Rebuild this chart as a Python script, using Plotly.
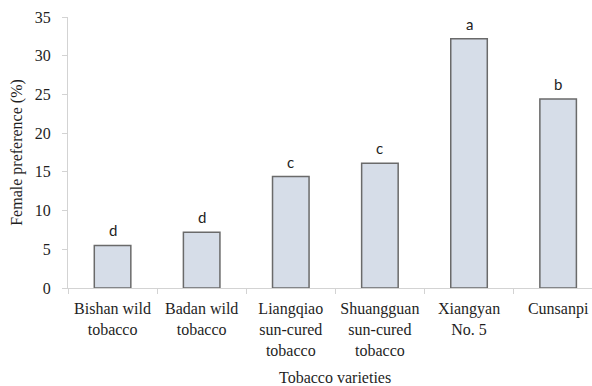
import plotly.graph_objects as go

varieties = [
    "Bishan wild<br>tobacco",
    "Badan wild<br>tobacco",
    "Liangqiao<br>sun-cured<br>tobacco",
    "Shuangguan<br>sun-cured<br>tobacco",
    "Xiangyan<br>No. 5",
    "Cunsanpi",
]
preference = [5.5, 7.2, 14.4, 16.1, 32.2, 24.4]
groups = ["d", "d", "c", "c", "a", "b"]
y_ticks = [0, 5, 10, 15, 20, 25, 30, 35]

serif = "Liberation Serif"
sans = "Lato"
axis_grey = "#d3d3d3"
ink = "#1e1e1e"

fig = go.Figure()
fig.add_trace(go.Bar(
    x=varieties,
    y=preference,
    width=0.41,
    marker=dict(color="#d6dde8", line=dict(color="#6a6a6a", width=1.5)),
))

# significance letters above each bar
for v, p, g in zip(varieties, preference, groups):
    fig.add_annotation(
        x=v, y=p, text=g, showarrow=False, yanchor="bottom", yshift=4,
        font=dict(family=sans, size=15, color=ink),
    )

# x-axis title centred on the full category band
fig.add_annotation(
    x=2.5, xref="x", y=-0.332, yref="paper", yanchor="middle",
    text="Tobacco varieties", showarrow=False,
    font=dict(family=serif, size=16, color=ink),
)

fig.update_layout(
    width=592, height=386,
    margin=dict(l=68, r=0, t=17, b=98),
    plot_bgcolor="white", paper_bgcolor="white",
    showlegend=False,
    font=dict(family=serif, color=ink),
)
fig.update_xaxes(
    type="category",
    range=[-0.5, 5.38],
    showline=True, linecolor=axis_grey, linewidth=1,
    ticks="outside", tickson="boundaries", ticklen=5, tickcolor=axis_grey,
    ticklabelstandoff=6,
    showgrid=False, zeroline=False,
    tickfont=dict(family=serif, size=16, color=ink),
)
fig.update_yaxes(
    range=[0, 35], tickvals=y_ticks,
    showline=True, linecolor=axis_grey, linewidth=1,
    ticks="outside", ticklen=5, tickcolor=axis_grey,
    ticklabelstandoff=8,
    showgrid=False, zeroline=False,
    tickfont=dict(family=serif, size=16, color=ink),
    title=dict(text="Female preference (%)", standoff=8,
               font=dict(family=serif, size=16, color=ink)),
)

fig.write_html("out.html")
